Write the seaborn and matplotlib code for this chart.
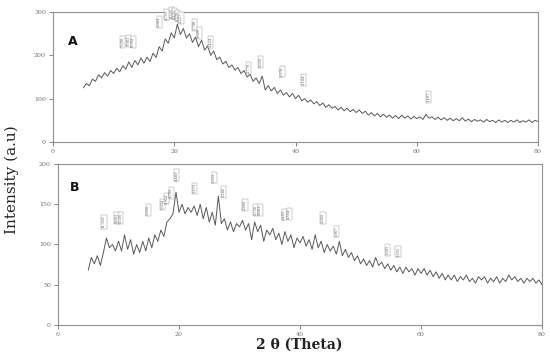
import numpy as np
import pandas as pd
import seaborn as sns
import matplotlib.pyplot as plt

# 2-theta grid (5 to 80 deg, every 0.5 deg)
two_theta = np.arange(5.0, 80.01, 0.5)

intensity_a = [
    125, 135, 130, 145, 140, 155, 148, 160, 152, 165,
    158, 170, 162, 176, 168, 185, 172, 188, 178, 194,
    182, 196, 186, 205, 195, 220, 210, 238, 228, 252,
    240, 272, 248, 262, 240, 250, 230, 242, 220, 235,
    212, 222, 200, 210, 190, 196, 180, 186, 172, 178,
    166, 172, 158, 165, 150, 156, 140, 148, 135, 152,
    120, 130, 118, 126, 112, 120, 108, 114, 104, 112,
    100, 108, 95, 100, 92, 97, 88, 93, 84, 90,
    80, 86, 78, 82, 74, 80, 72, 78, 70, 75,
    68, 74, 66, 71, 62, 68, 60, 66, 58, 64,
    57, 62, 55, 61, 54, 62, 55, 60, 53, 59,
    54, 58, 52, 64, 55, 58, 52, 57, 51, 56,
    50, 55, 49, 54, 49, 56, 48, 53, 47, 52,
    48, 51, 46, 52, 47, 50, 45, 51, 46, 50,
    45, 50, 46, 51, 45, 49, 46, 51, 45, 50,
    47,
]

intensity_b = [
    68, 84, 76, 86, 74, 90, 108, 96, 100, 92,
    104, 92, 112, 94, 106, 88, 100, 90, 104, 92,
    108, 96, 112, 104, 118, 110, 128, 132, 138, 165,
    140, 150, 138, 146, 140, 148, 136, 150, 132, 146,
    128, 140, 124, 160, 126, 132, 118, 128, 116, 126,
    122, 130, 118, 126, 106, 128, 116, 124, 104, 118,
    112, 120, 106, 114, 100, 116, 104, 112, 96, 108,
    102, 110, 98, 106, 94, 112, 96, 104, 90, 100,
    92, 98, 88, 104, 86, 94, 84, 90, 80, 86,
    76, 82, 74, 80, 72, 84, 74, 78, 70, 76,
    68, 74, 66, 72, 64, 72, 66, 70, 62, 70,
    64, 70, 62, 68, 60, 66, 58, 64, 56, 62,
    56, 62, 54, 60, 56, 62, 54, 58, 52, 60,
    56, 60, 52, 58, 54, 60, 52, 58, 54, 62,
    56, 60, 54, 58, 52, 58, 54, 58, 52, 56,
    50,
]

# peak d-spacing tags: (2theta, height, label)
peaks_a = [
    (11.5, 231, "7.690"), (12.5, 233, "7.081"), (13.2, 231, "6.702"),
    (17.5, 277, "5.064"), (18.8, 294, "4.716"), (19.6, 298, "4.525"),
    (20.1, 296, "4.455"), (20.6, 292, "4.370"), (21.1, 286, "4.227"),
    (23.4, 270, "3.798"), (24.1, 252, "3.690"), (26.0, 231, "3.424"),
    (32.3, 171, "2.770"), (34.2, 185, "2.620"), (37.8, 162, "2.378"),
    (41.3, 143, "2.184"), (61.9, 104, "1.497"),
]
peaks_b = [
    (7.6, 128, "11.182"), (9.75, 133, "9.063"), (10.4, 133, "8.500"),
    (14.9, 143, "5.950"), (17.3, 150, "5.034"), (18.0, 157, "4.924"),
    (18.7, 164, "4.792"), (19.6, 186, "4.409"), (22.6, 170, "3.873"),
    (25.8, 183, "3.333"), (27.4, 165, "3.246"), (30.9, 149, "2.888"),
    (32.7, 143, "2.736"), (33.4, 143, "2.681"), (37.4, 137, "2.403"),
    (38.2, 138, "2.354"), (43.8, 133, "2.066"), (46.1, 116, "1.967"),
    (54.4, 93, "1.685"), (56.2, 91, "1.635"),
]

df = pd.DataFrame({"two_theta": two_theta, "A": intensity_a, "B": intensity_b})

sns.set_style("white")
plt.rcParams["font.family"] = ["DejaVu Serif"]

fig = plt.figure(figsize=(5.5, 3.58), dpi=100)
ax_a = fig.add_axes([0.0964, 0.6034, 0.882, 0.363])
ax_b = fig.add_axes([0.1055, 0.0922, 0.88, 0.4497])

panels = [
    (ax_a, "A", 300, [0, 100, 200, 300], peaks_a, (0.031, 0.75)),
    (ax_b, "B", 200, [0, 50, 100, 150, 200], peaks_b, (0.025, 0.83)),
]
for ax, col, ymax, yt, peaks, letter_pos in panels:
    sns.lineplot(data=df, x="two_theta", y=col, ax=ax, color="#585858",
                 linewidth=0.7, estimator=None)
    ax.set_xlim(0, 80)
    ax.set_ylim(0, ymax)
    ax.set_xticks([0, 20, 40, 60, 80])
    ax.set_yticks(yt)
    ax.set_xlabel("")
    ax.set_ylabel("")
    for s in ax.spines.values():
        s.set_color("#909090")
        s.set_linewidth(0.8)
    ax.tick_params(labelsize=4.5, colors="#707070", length=3, width=0.6,
                   left=True, bottom=True, pad=2)
    for x, y, lab in peaks:
        ax.text(x, y, lab, rotation=90, fontsize=2.6, color="#606060",
                ha="center", va="center",
                bbox=dict(boxstyle="square,pad=0.15", fc="white",
                          ec="#909090", lw=0.3))
    ax.text(letter_pos[0], letter_pos[1], col, transform=ax.transAxes,
            fontsize=9, fontweight="bold", family="DejaVu Sans",
            color="#111111")

fig.text(0.022, 0.497, "Intensity (a.u)", rotation=90, fontsize=11,
         ha="center", va="center", color="#222222")
fig.text(0.545, 0.036, "2 θ (Theta)", fontsize=10, fontweight="bold",
         ha="center", va="center", color="#222222")

fig.savefig("out.png", dpi=100)
